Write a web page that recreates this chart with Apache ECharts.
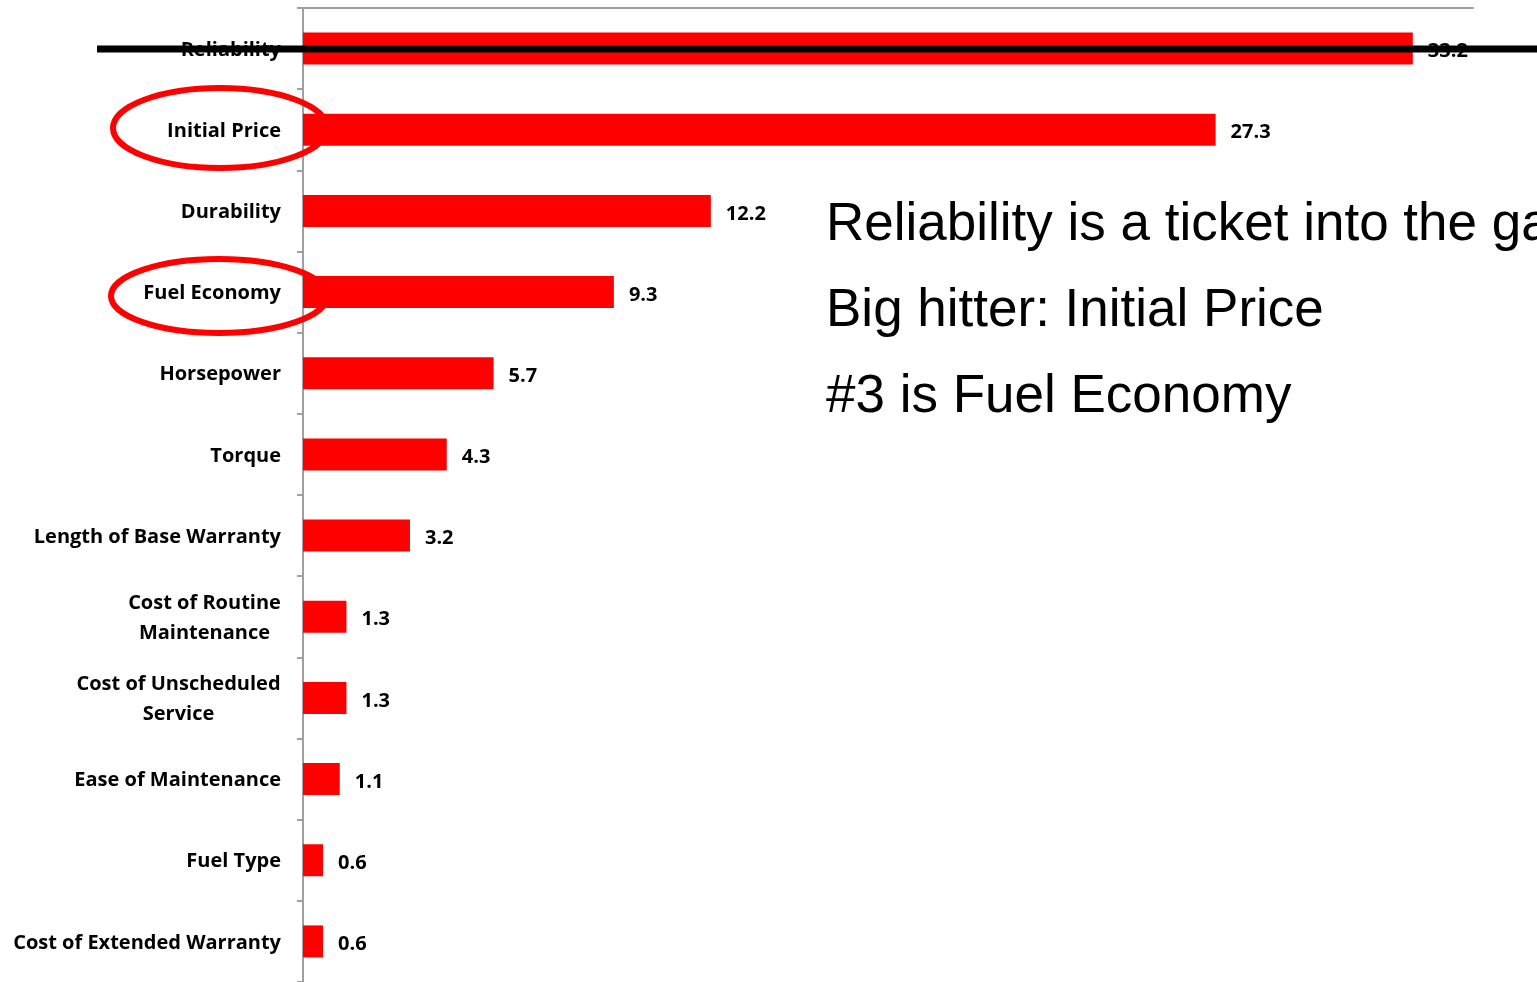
<!DOCTYPE html>
<html>
<head>
<meta charset="utf-8">
<script src="https://cdn.jsdelivr.net/npm/echarts@6/dist/echarts.min.js"></script>
<style>html,body{margin:0;padding:0;background:#fff;}#c{width:1537px;height:982px;}</style>
</head>
<body>
<div id="c"></div>
<script>
const categories = ['Reliability','Initial Price','Durability','Fuel Economy','Horsepower','Torque','Length of Base Warranty','Cost of Routine\nMaintenance','Cost of Unscheduled\nService','Ease of Maintenance','Fuel Type','Cost of Extended Warranty'];
const values = [33.2, 27.3, 12.2, 9.3, 5.7, 4.3, 3.2, 1.3, 1.3, 1.1, 0.6, 0.6];
const notes = ['Reliability is a ticket into the game','Big hitter: Initial Price','#3 is Fuel Economy'];

const FAMILY = '"Open Sans"';
const FSIZE = 20;
const ctx = document.createElement('canvas').getContext('2d');
ctx.font = 'bold ' + FSIZE + 'px ' + FAMILY;
const richDefs = {};
categories.forEach((c,i)=>{
  if (c.indexOf('\n')>=0){
    const w = Math.max(...c.split('\n').map(l=>ctx.measureText(l).width));
    richDefs['k'+i] = {width: Math.ceil(w), align:'center', fontFamily:FAMILY, fontWeight:'bold', fontSize:FSIZE, color:'#000', lineHeight:30};
  }
});

const chart = echarts.init(document.getElementById('c'));
chart.setOption({
  animation:false,
  grid:{left:303, top:8, right:64, bottom:-4, containLabel:false},
  xAxis:{type:'value', min:0, max:35, position:'top',
    axisLine:{show:true, lineStyle:{color:'#a0a0a0', width:2}},
    axisTick:{show:false}, axisLabel:{show:false}, splitLine:{show:false}},
  yAxis:{type:'category', data:categories, inverse:true,
    axisLine:{show:true, lineStyle:{color:'#a0a0a0', width:2}},
    axisTick:{show:true, length:6, lineStyle:{color:'#a0a0a0', width:2}},
    axisLabel:{margin:22, color:'#000', fontFamily:FAMILY, fontWeight:'bold', fontSize:FSIZE, lineHeight:30, padding:[3,0,0,0],
      formatter:function(v){
        const i = categories.indexOf(v);
        if (v.indexOf('\n')<0) return v;
        return v.split('\n').map(l=>'{k'+i+'|'+l+'}').join('\n');
      },
      rich:richDefs}},
  series:[{type:'bar', data:values, barWidth:32, itemStyle:{color:'#ff0000'},
    label:{show:true, position:'right', distance:15, offset:[0,3], color:'#000', fontFamily:FAMILY, fontWeight:'bold', fontSize:FSIZE,
      formatter:p=>p.value.toFixed(1)}}],
  graphic:[
    {type:'line', z:100, shape:{x1:97, y1:49, x2:1537, y2:49}, style:{stroke:'#000', lineWidth:7}},
    {type:'ellipse', z:100, shape:{cx:220, cy:128, rx:107, ry:40}, style:{fill:'none', stroke:'#ff0000', lineWidth:6}},
    {type:'ellipse', z:100, shape:{cx:219, cy:296, rx:108, ry:37}, style:{fill:'none', stroke:'#ff0000', lineWidth:6}},
    {type:'text', z:100, x:826, y:225, style:{text:notes[0], font:'53px "Liberation Sans"', fill:'#000', verticalAlign:'middle'}},
    {type:'text', z:100, x:826, y:311, style:{text:notes[1], font:'53px "Liberation Sans"', fill:'#000', verticalAlign:'middle'}},
    {type:'text', z:100, x:826, y:397, style:{text:notes[2], font:'53px "Liberation Sans"', fill:'#000', verticalAlign:'middle'}}
  ]
});
</script>
</body>
</html>
